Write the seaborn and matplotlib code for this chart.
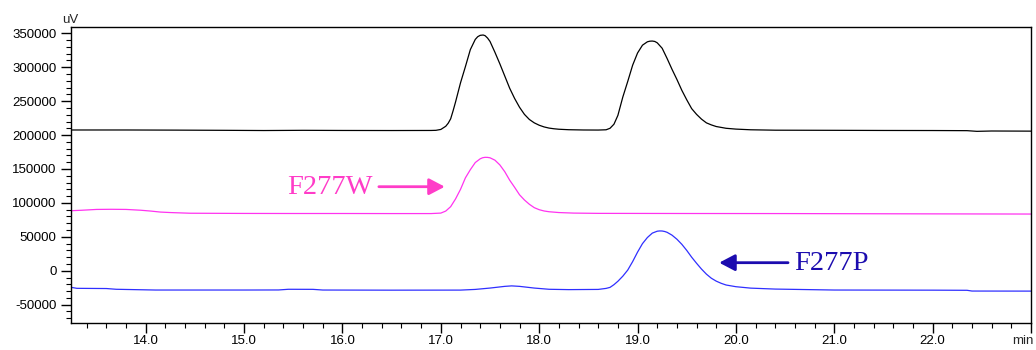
import numpy as np
import pandas as pd
import seaborn as sns
import matplotlib.pyplot as plt
from matplotlib.ticker import MultipleLocator

# (time in min, signal in uV)
time_black = [13.24, 13.8, 14.3, 14.8, 15.2, 15.6, 16.0, 16.5, 16.9, 16.95,
              17.00, 17.05, 17.075, 17.10, 17.125, 17.15, 17.20, 17.25, 17.30, 17.35,
              17.375, 17.40, 17.43, 17.45, 17.475, 17.50, 17.55, 17.60, 17.65, 17.70,
              17.75, 17.80, 17.85, 17.90, 17.95, 18.00, 18.05, 18.10, 18.15, 18.20,
              18.30, 18.45, 18.60, 18.68, 18.72, 18.76, 18.80, 18.85, 18.90, 18.95,
              19.00, 19.05, 19.10, 19.125, 19.15, 19.175, 19.20, 19.25, 19.30, 19.35,
              19.40, 19.45, 19.50, 19.55, 19.60, 19.65, 19.70, 19.75, 19.80, 19.90,
              20.00, 20.15, 20.4, 21.0, 21.5, 22.0, 22.35, 22.45, 22.6, 23.0]
uv_black = [207500, 207500, 207300, 207000, 206700, 207000, 206800, 206700, 206800, 207000,
            208300, 213000, 217500, 224000, 236000, 249000, 277000, 301000, 326000, 341000,
            345000, 347000, 347500, 346500, 343000, 338000, 322000, 305000, 287000, 269000,
            254000, 241000, 230500, 223000, 218000, 214500, 212000, 210300, 209300, 208600,
            207900, 207500, 207400, 207800, 210000, 216000, 229000, 256000, 279000, 303000,
            321000, 332500, 337500, 338400, 338600, 338000, 336000, 328000, 313000, 297000,
            282000, 266000, 252000, 239000, 230500, 223500, 218000, 215000, 212600, 210000,
            208800, 207800, 207200, 207000, 206800, 206700, 206500, 205500, 206000, 205800]

time_pink = [13.24, 13.35, 13.50, 13.65, 13.80, 13.95, 14.05, 14.15, 14.25, 14.45,
             15.0, 15.5, 16.0, 16.5, 16.9, 17.00, 17.05, 17.10, 17.15, 17.20,
             17.25, 17.30, 17.35, 17.40, 17.425, 17.45, 17.475, 17.50, 17.55, 17.60,
             17.65, 17.70, 17.75, 17.80, 17.85, 17.90, 17.95, 18.00, 18.05, 18.10,
             18.20, 18.35, 18.6, 19.5, 20.5, 21.5, 22.2, 23.0]
uv_pink = [88500, 89200, 90400, 90600, 90400, 89200, 88000, 86500, 85800, 84800,
           84500, 84400, 84400, 84300, 84300, 85000, 88000, 94500, 106000, 120000,
           137000, 149000, 159500, 165000, 166600, 167200, 167100, 166500, 163000, 156000,
           146000, 133500, 123000, 112000, 104300, 98000, 93000, 90000, 88100, 87000,
           85800, 85000, 84600, 84400, 84300, 84000, 83800, 83600]

time_blue = [13.24, 13.30, 13.60, 13.70, 14.10, 15.0, 15.35, 15.45, 15.70, 15.80,
             16.5, 17.2, 17.35, 17.50, 17.65, 17.72, 17.80, 17.95, 18.10, 18.30,
             18.60, 18.68, 18.72, 18.76, 18.80, 18.85, 18.90, 18.95, 19.00, 19.05,
             19.10, 19.15, 19.20, 19.225, 19.25, 19.275, 19.30, 19.35, 19.40, 19.45,
             19.50, 19.55, 19.60, 19.65, 19.70, 19.75, 19.80, 19.85, 19.90, 20.00,
             20.15, 20.4, 21.0, 22.0, 22.35, 22.40, 23.0]
uv_blue = [-24400, -25900, -26200, -27300, -28400, -28400, -28300, -27300, -27400, -28400,
           -28600, -28500, -27500, -25500, -23000, -22300, -23000, -25500, -27300, -27800,
           -27500, -26000, -24500, -20500, -15500, -8000, 1000, 13500, 27500, 40000,
           49000, 55500, 58300, 58700, 58600, 57900, 56700, 52500, 46500, 39000,
           30000, 20000, 11000, 2500, -5000, -11000, -15300, -18500, -21000, -23500,
           -25600, -27000, -28400, -28600, -28800, -29900, -30000]

x_ticks = [14.0, 15.0, 16.0, 17.0, 18.0, 19.0, 20.0, 21.0, 22.0, 23.0]
x_tick_labels = ["14.0", "15.0", "16.0", "17.0", "18.0", "19.0", "20.0", "21.0", "22.0", ""]
y_ticks = [-50000, 0, 50000, 100000, 150000, 200000, 250000, 300000, 350000]

sns.set_style("ticks")
plt.rcParams['font.family'] = ['Liberation Sans', 'DejaVu Sans']

fig = plt.figure(figsize=(10.36, 3.5), dpi=100)
ax = fig.add_axes([71 / 1036, 1 - 323 / 350, 960 / 1036, 296 / 350])

sns.lineplot(x=time_black, y=uv_black, ax=ax, color="black", lw=0.9, estimator=None, sort=False)
sns.lineplot(x=time_pink, y=uv_pink, ax=ax, color="#ff33f0", lw=0.9, estimator=None, sort=False)
sns.lineplot(x=time_blue, y=uv_blue, ax=ax, color="#2f2fff", lw=0.9, estimator=None, sort=False)

ax.set_xlim(13.24, 23.0)
ax.set_ylim(-77000, 359300)
ax.set_xticks(x_ticks)
ax.set_xticklabels(x_tick_labels)
ax.set_yticks(y_ticks)
ax.set_yticklabels([str(v) for v in y_ticks])
ax.xaxis.set_minor_locator(MultipleLocator(0.2))
ax.yaxis.set_minor_locator(MultipleLocator(10000))
ax.tick_params(which="major", direction="out", length=7, width=1, labelsize=9.5, colors="black")
ax.tick_params(which="minor", direction="out", length=3.5, width=0.8, colors="black")
ax.tick_params(axis="x", pad=2)
for s in ax.spines.values():
    s.set_color("black")
    s.set_linewidth(1.0)
ax.set_xlabel("")
ax.set_ylabel("")

ax.text(-0.009, 1.003, "uV", transform=ax.transAxes, ha="left", va="bottom", fontsize=9.5)
fig.text(1034 / 1036, 1 - 341 / 350, "min", ha="right", va="center", fontsize=9.5)

# peak labels
pink_txt = "#ff3cc8"
blue_txt = "#1c0caf"
ax.text(15.87, 122500, "F277W", color=pink_txt, fontsize=20.5, family="Liberation Serif",
        ha="center", va="center")
ax.annotate("", xy=(17.04, 123900), xytext=(16.37, 123900),
            arrowprops=dict(arrowstyle="-|>,head_length=0.95,head_width=0.5", lw=2,
                            color=pink_txt, shrinkA=0, shrinkB=0, mutation_scale=10))
ax.text(20.97, 10500, "F277P", color=blue_txt, fontsize=20.5, family="Liberation Serif",
        ha="center", va="center")
ax.annotate("", xy=(19.83, 11900), xytext=(20.53, 11900),
            arrowprops=dict(arrowstyle="-|>,head_length=0.95,head_width=0.5", lw=2,
                            color=blue_txt, shrinkA=0, shrinkB=0, mutation_scale=10))

plt.savefig("out.png", dpi=100)
